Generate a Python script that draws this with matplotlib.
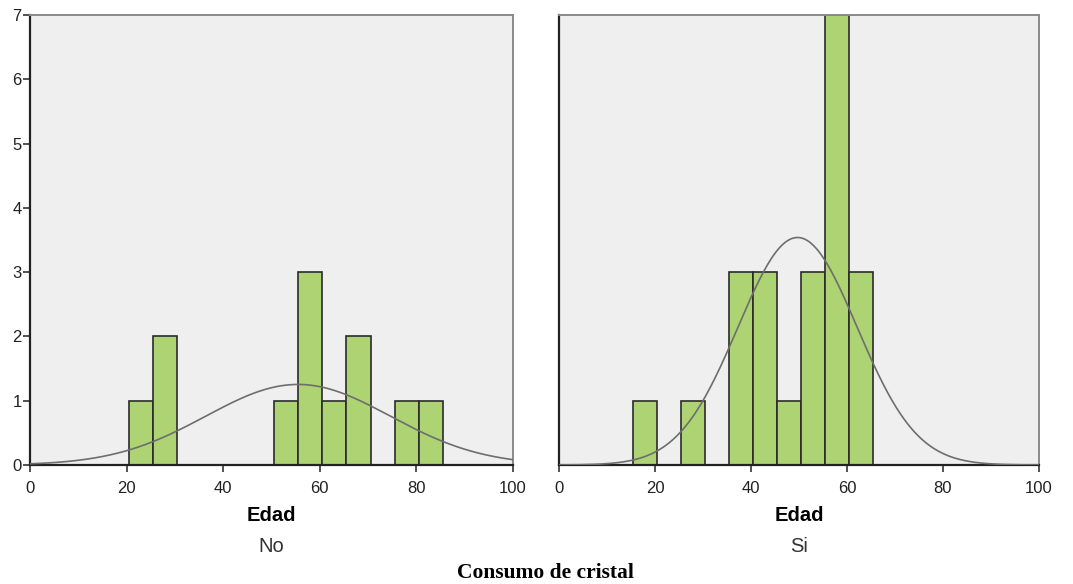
import numpy as np
import matplotlib
matplotlib.use("Agg")
import matplotlib.pyplot as plt

# Age histograms (bin width 5) split by crystal use
bin_edges = [0.5 + 5 * i for i in range(21)]
groups = ["No", "Si"]
counts_no = [0, 0, 0, 0, 1, 2, 0, 0, 0, 0, 1, 3, 1, 2, 0, 1, 1, 0, 0, 0]
counts_si = [0, 0, 0, 1, 0, 1, 0, 3, 3, 1, 3, 7, 3, 0, 0, 0, 0, 0, 0, 0]
# Normal curve parameters (mean, standard deviation, n)
mean_no, sd_no, n_no = 55.5, 19.1, 12
mean_si, sd_si, n_si = 49.7, 12.4, 22

x_ticks = [0, 20, 40, 60, 80, 100]
y_ticks = [0, 1, 2, 3, 4, 5, 6, 7]

bar_color = "#ADD372"
edge_color = "#2B2B2B"
bg_color = "#EFEFEF"
curve_color = "#6E6E6E"

fig = plt.figure(figsize=(10.73, 5.84), dpi=100)
W, H = 1073, 584
positions = [
    [30 / W, (H - 465) / H, 483 / W, 450 / H],
    [559 / W, (H - 465) / H, 480 / W, 450 / H],
]

series = [
    (counts_no, mean_no, sd_no, n_no),
    (counts_si, mean_si, sd_si, n_si),
]

tick_font = dict(family="Liberation Sans", size=12)

for idx, (pos, (counts, mu, sd, n), grp) in enumerate(zip(positions, series, groups)):
    ax = fig.add_axes(pos)
    ax.set_facecolor(bg_color)
    lefts = np.array(bin_edges[:-1])
    widths = np.diff(bin_edges)
    cnt = np.array(counts)
    mask = cnt > 0
    ax.bar(lefts[mask], cnt[mask], width=widths[mask], align="edge",
           color=bar_color, edgecolor=edge_color, linewidth=1.2, zorder=2)
    xs = np.linspace(0, 100, 400)
    ys = n * 5 / (sd * np.sqrt(2 * np.pi)) * np.exp(-0.5 * ((xs - mu) / sd) ** 2)
    ax.plot(xs, ys, color=curve_color, linewidth=1.2, zorder=3)
    ax.set_xlim(0, 100)
    ax.set_ylim(0, 7)
    ax.set_xticks(x_ticks)
    ax.set_xticklabels([str(t) for t in x_ticks], fontdict=tick_font, color="#222222")
    ax.set_yticks(y_ticks)
    if idx == 0:
        ax.set_yticklabels([str(t) for t in y_ticks], fontdict=tick_font, color="#222222")
        ax.tick_params(axis="y", length=5, width=1.2, pad=1, color="#333333")
    else:
        ax.tick_params(axis="y", length=0, labelleft=False)
    ax.tick_params(axis="x", length=5, width=1.2, pad=6.5, color="#333333")
    for side in ["left", "bottom"]:
        ax.spines[side].set_color("#222222")
        ax.spines[side].set_linewidth(1.6)
    for side in ["top", "right"]:
        ax.spines[side].set_color("#8A8A8A")
        ax.spines[side].set_linewidth(1.4)
    ax.set_xlabel("Edad", fontsize=14.5, fontweight="bold", family="Liberation Sans",
                  labelpad=7)
    cx = pos[0] + pos[2] / 2
    fig.text(cx, (H - 546) / H, grp, ha="center", va="center",
             fontsize=14.5, family="Liberation Sans", color="#333333")

fig.text(545 / W, (H - 573) / H, "Consumo de cristal", ha="center", va="center",
         fontsize=15.5, fontweight="bold", family="Liberation Serif")

fig.savefig("out.png", dpi=100, facecolor="white")
